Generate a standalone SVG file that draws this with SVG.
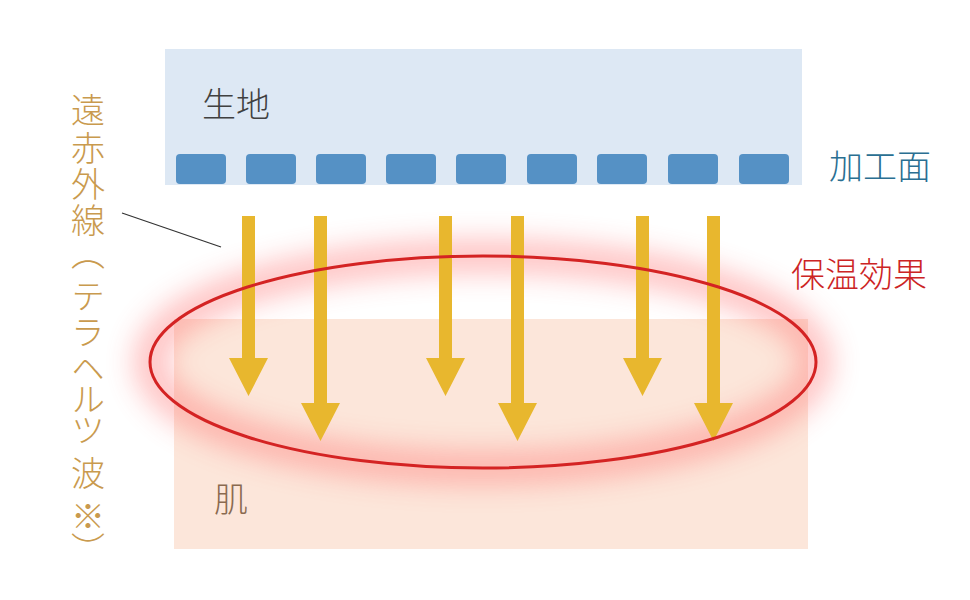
<svg xmlns="http://www.w3.org/2000/svg" width="970" height="600" viewBox="0 0 970 600">
<defs>
<style>
.t{font-family:"Noto Sans CJK JP","Noto Sans CJK SC",sans-serif;font-size:34px;font-weight:300}
.v{font-family:"Noto Sans CJK JP","Noto Sans CJK SC",sans-serif;font-size:34px;font-weight:300;fill:#c99a4e;writing-mode:vertical-rl}
.sq{fill:#5591c5}
.arr{fill:#e8b72e}
</style>
<filter id="glow" x="-20%" y="-40%" width="140%" height="180%"><feGaussianBlur stdDeviation="15"/></filter>
</defs>
<rect width="970" height="600" fill="#fff"/>
<g id="fabric">
<rect x="165" y="49" width="637" height="136" fill="#dde8f4"/>
<text class="t" x="202" y="117" fill="#404040">生地</text>
</g>
<g id="finish">
<rect class="sq" x="176" y="154" width="50" height="30" rx="4"/>
<rect class="sq" x="246" y="154" width="50" height="30" rx="4"/>
<rect class="sq" x="316" y="154" width="50" height="30" rx="4"/>
<rect class="sq" x="386" y="154" width="50" height="30" rx="4"/>
<rect class="sq" x="456" y="154" width="50" height="30" rx="4"/>
<rect class="sq" x="527" y="154" width="50" height="30" rx="4"/>
<rect class="sq" x="597" y="154" width="50" height="30" rx="4"/>
<rect class="sq" x="668" y="154" width="50" height="30" rx="4"/>
<rect class="sq" x="739" y="154" width="50" height="30" rx="4"/>
<text class="t" x="829" y="179" fill="#2a6f92">加工面</text>
</g>
<g id="skin">
<rect x="174" y="319" width="634" height="230" fill="#fce6da"/>
<text class="t" x="214" y="512" fill="#8a6a50">肌</text>
</g>
<g id="warm">
<ellipse cx="483" cy="362" rx="333" ry="106" fill="none" stroke="#ff6060" stroke-width="28" opacity="0.45" filter="url(#glow)"/>
</g>
<g id="connectors">
<line x1="122" y1="213" x2="221" y2="247" stroke="#333" stroke-width="1.2"/>
<g id="arrows">
<path class="arr" d="M242,216h13v142h13l-19.5,38l-19.5,-38h13z"/>
<path class="arr" d="M314,216h13v187h13l-19.5,38l-19.5,-38h13z"/>
<path class="arr" d="M439,216h13v142h13l-19.5,38l-19.5,-38h13z"/>
<path class="arr" d="M511,216h13v187h13l-19.5,38l-19.5,-38h13z"/>
<path class="arr" d="M636,216h13v142h13l-19.5,38l-19.5,-38h13z"/>
<path class="arr" d="M707,216h13v187h13l-19.5,38l-19.5,-38h13z"/>
</g>
</g>
<g id="ellipse">
<ellipse cx="483" cy="362" rx="333" ry="106" fill="none" stroke="#d42323" stroke-width="3"/>
<text class="t" x="791" y="287" fill="#cc2424">保温効果</text>
</g>
<g id="ir">
<text class="v" x="88" y="93">遠</text>
<text class="v" x="88" y="131">赤</text>
<text class="v" x="88" y="167">外</text>
<text class="v" x="88" y="203">線</text>
<text class="v" x="88" y="236">（</text>
<text class="v" x="88" y="279">テ</text>
<text class="v" x="88" y="315">ラ</text>
<text class="v" x="88" y="351">ヘ</text>
<text class="v" x="88" y="382">ル</text>
<text class="v" x="88" y="413">ツ</text>
<text class="v" x="88" y="456">波</text>
<text class="v" x="88" y="499">※</text>
<text class="v" x="88" y="532">）</text>
</g>
</svg>
